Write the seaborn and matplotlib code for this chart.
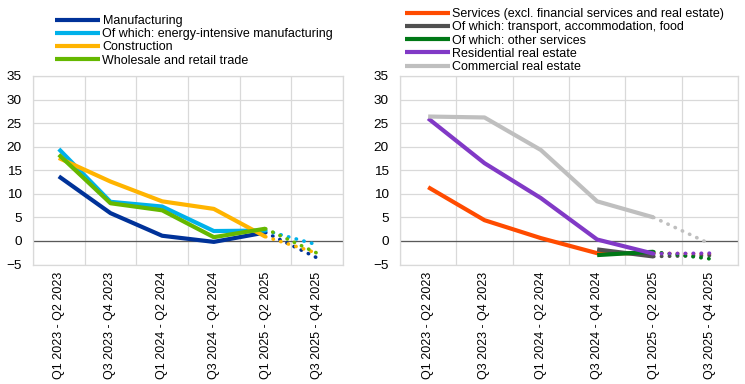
import matplotlib
matplotlib.use("Agg")
import matplotlib.pyplot as plt
import numpy as np
import pandas as pd
import seaborn as sns

periods = ["Q1 2023 - Q2 2023", "Q3 2023 - Q4 2023", "Q1 2024 - Q2 2024",
           "Q3 2024 - Q4 2024", "Q1 2025 - Q2 2025", "Q3 2025 - Q4 2025"]

# left panel
manufacturing = [13.7, 5.9, 1.1, -0.2, 1.8, -3.6]
energy_intensive = [19.5, 8.3, 7.3, 2.1, 2.2, -0.8]
construction = [17.6, 12.6, 8.4, 6.8, 0.9, -2.6]
wholesale_retail = [18.3, 8.0, 6.5, 0.8, 2.6, -2.6]

# right panel
services = [11.4, 4.4, 0.6, -2.6, -2.6, -2.8]
transport_food = [np.nan, np.nan, np.nan, -1.8, -3.3, -3.1]
other_services = [np.nan, np.nan, np.nan, -3.0, -2.3, -3.8]
residential_re = [26.0, 16.5, 9.1, 0.3, -2.7, -2.6]
commercial_re = [26.4, 26.2, 19.3, 8.4, 5.0, -0.6]

left_series = [
    ("Manufacturing", manufacturing, "#003299"),
    ("Of which: energy-intensive manufacturing", energy_intensive, "#00B1EA"),
    ("Construction", construction, "#FFB400"),
    ("Wholesale and retail trade", wholesale_retail, "#65B800"),
]
right_series = [
    ("Services (excl. financial services and real estate)", services, "#FF4B00"),
    ("Of which: transport, accommodation, food", transport_food, "#505050"),
    ("Of which: other services", other_services, "#007816"),
    ("Residential real estate", residential_re, "#8139C6"),
    ("Commercial real estate", commercial_re, "#BFBFBF"),
]

sns.set_style("white")
plt.rcParams["font.family"] = ["Liberation Sans", "DejaVu Sans"]
plt.rcParams["font.size"] = 9
plt.rcParams["text.color"] = "black"
plt.rcParams["xtick.color"] = "black"
plt.rcParams["ytick.color"] = "black"

fig = plt.figure(figsize=(7.45, 3.84), dpi=100)
ax_left = fig.add_axes([33 / 745, 119.5 / 384, 310 / 745, 188.5 / 384])
ax_right = fig.add_axes([400 / 745, 119.5 / 384, 338 / 745, 188.5 / 384])


def draw_panel(ax, series):
    x = np.arange(len(periods))
    for label, values, color in series:
        df = pd.DataFrame({"x": x, "y": values})
        solid = df.iloc[:5]
        dotted = df.iloc[4:]
        sns.lineplot(data=solid, x="x", y="y", color=color, linewidth=3.0,
                     label=label, ax=ax, solid_capstyle="butt")
        sns.lineplot(data=dotted, x="x", y="y", color=color, linewidth=2.6,
                     linestyle=(0, (0.1, 2.1)), dash_capstyle="round", ax=ax)

    ax.set_xlim(-0.5, 5.5)
    ax.set_ylim(-5, 35)
    ax.set_yticks(range(-5, 36, 5))
    ax.set_xticks(x)
    ax.set_xticklabels(periods, rotation=90)
    ax.set_xticks(np.arange(-0.5, 6, 1), minor=True)
    ax.set_xlabel("")
    ax.set_ylabel("")
    ax.grid(axis="y", which="major", color="#D9D9D9", linewidth=0.9)
    ax.grid(axis="x", which="minor", color="#D9D9D9", linewidth=0.9)
    ax.axhline(0, color="#595959", linewidth=0.9, zorder=1.5)
    ax.tick_params(axis="both", which="both", length=0)
    ax.tick_params(axis="y", pad=8, labelsize=9.7)
    ax.tick_params(axis="x", pad=5)
    for spine in ax.spines.values():
        spine.set_color("#D9D9D9")
        spine.set_linewidth(0.9)
    ax.set_axisbelow(True)
    ax.get_legend().remove()


draw_panel(ax_left, left_series)
draw_panel(ax_right, right_series)

for ax, anchor in [(ax_left, (55 / 745, 1 - 15 / 384)), (ax_right, (405 / 745, 1 - 8 / 384))]:
    handles, labels = ax.get_legend_handles_labels()
    fig.legend(handles, labels, loc="upper left", bbox_to_anchor=anchor,
               frameon=False, fontsize=9, handlelength=3.6, handletextpad=0.2,
               labelspacing=0.1, borderpad=0, borderaxespad=0)

fig.savefig("out.png", dpi=100)
